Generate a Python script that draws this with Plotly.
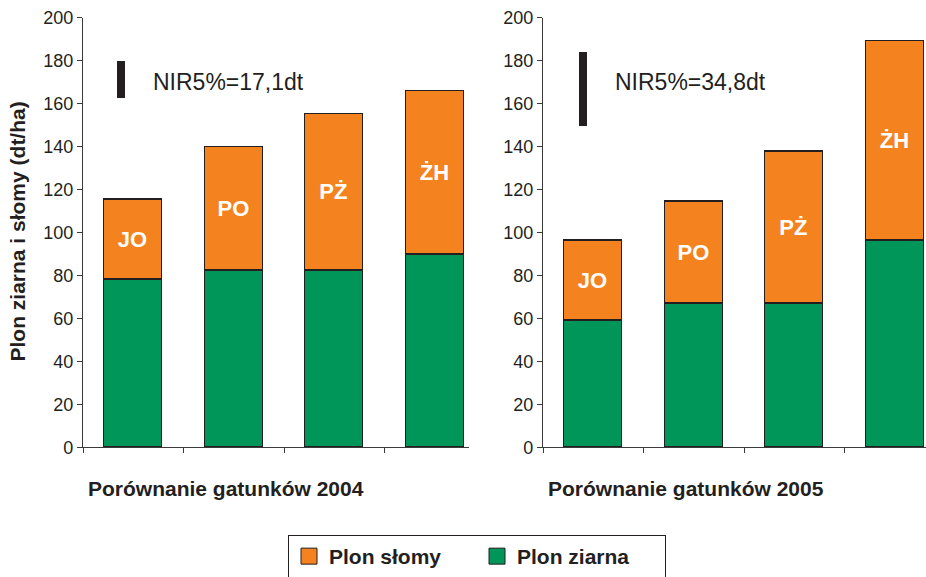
import plotly.graph_objects as go

# ---- data ----
categories = ["JO", "PO", "PŻ", "ŻH"]
grain_2004 = [78, 82, 82, 89.5]
straw_2004 = [37.3, 58, 73.2, 76.3]
grain_2005 = [59, 67, 66.8, 96]
straw_2005 = [37, 47.2, 70.8, 93.3]
nir_values = [17.1, 34.8]
nir_labels = ["NIR5%=17,1dt", "NIR5%=34,8dt"]
x_titles = ["Porównanie gatunków 2004", "Porównanie gatunków 2005"]
y_title = "Plon ziarna i słomy (dt/ha)"
legend_names = ["Plon słomy", "Plon ziarna"]
y_ticks = list(range(0, 201, 20))

# ---- style ----
ORANGE = "#F4821F"
GREEN = "#009659"
DARK = "#231F20"
AXIS = "#3a3a3a"
FONT = "Liberation Sans, Arial, sans-serif"
W, H = 926, 577

xpos = list(range(len(categories)))
nir_base = [162.8, 149.6]
nir_x = [-0.12, -0.10]
nir_text_x = [0.177, 0.198]

fig = go.Figure()

for i, (grain, straw) in enumerate([(grain_2004, straw_2004), (grain_2005, straw_2005)]):
    xa = "x" if i == 0 else "x2"
    ya = "y" if i == 0 else "y2"
    fig.add_trace(go.Bar(
        x=xpos, y=grain, xaxis=xa, yaxis=ya, width=0.58,
        marker=dict(color=GREEN, line=dict(color=DARK, width=1.2)),
        showlegend=False, hoverinfo="skip"))
    fig.add_trace(go.Bar(
        x=xpos, y=straw, xaxis=xa, yaxis=ya, width=0.58,
        marker=dict(color=ORANGE, line=dict(color=DARK, width=1.2)),
        text=categories, textposition="inside", insidetextanchor="middle",
        textfont=dict(family=FONT, size=22, color="white", weight="bold"),
        showlegend=False, hoverinfo="skip"))
    # NIR bar
    fig.add_trace(go.Bar(
        x=[nir_x[i]], y=[nir_values[i]], base=[nir_base[i]], width=0.08,
        xaxis=xa, yaxis=ya, marker=dict(color=DARK, line=dict(width=0)),
        showlegend=False, hoverinfo="skip"))

# legend entries
for name, col in zip(legend_names, [ORANGE, GREEN]):
    fig.add_trace(go.Scatter(
        x=[None], y=[None], mode="markers", name=name,
        marker=dict(symbol="square", size=16, color=col, line=dict(color=DARK, width=1)),
        showlegend=True))

y0 = (H - 447.3) / H
y1 = (H - 17.7) / H
cat_w = 100.5

axis_common_y = dict(
    range=[0, 200], tickvals=y_ticks, showline=True, linecolor=AXIS, linewidth=1.2,
    ticks="outside", ticklen=5, tickcolor=AXIS, tickwidth=1.2,
    tickfont=dict(family=FONT, size=18, color=DARK), showgrid=False, zeroline=False,
    domain=[y0, y1], fixedrange=True, automargin=False)
axis_common_x = dict(
    showline=True, linecolor=AXIS, linewidth=1.2, ticks="outside", ticklen=5,
    tickcolor=AXIS, tickwidth=1.2, tickvals=[-0.5, 0.5, 1.5, 2.5], showticklabels=False,
    showgrid=False, zeroline=False, fixedrange=True, automargin=False)

fig.update_layout(
    width=W, height=H,
    margin=dict(l=0, r=0, t=0, b=0, autoexpand=False),
    paper_bgcolor="white", plot_bgcolor="white",
    barmode="stack", bargap=0,
    font=dict(family=FONT, color=DARK),
    xaxis=dict(axis_common_x, domain=[83 / W, 469 / W], range=[-0.5, -0.5 + 386 / cat_w], anchor="y"),
    yaxis=dict(axis_common_y, anchor="x"),
    xaxis2=dict(axis_common_x, domain=[543 / W, 1.0], range=[-0.5, -0.5 + (W - 543) / cat_w], anchor="y2"),
    yaxis2=dict(axis_common_y, anchor="x2"),
    showlegend=True,
    legend=dict(
        orientation="h", x=288 / W, xanchor="left", y=(H - 535) / H, yanchor="top",
        bordercolor=DARK, borderwidth=1, bgcolor="white", traceorder="normal",
        font=dict(family=FONT, size=21, color=DARK, weight="bold"),
        entrywidth=143, itemsizing="trace"),
)

annotations = [
    dict(text=x_titles[0], xref="paper", yref="paper", x=86 / W, y=(H - 488) / H,
         xanchor="left", yanchor="middle", showarrow=False,
         font=dict(family=FONT, size=21, color=DARK, weight="bold")),
    dict(text=x_titles[1], xref="paper", yref="paper", x=546 / W, y=(H - 488) / H,
         xanchor="left", yanchor="middle", showarrow=False,
         font=dict(family=FONT, size=21, color=DARK, weight="bold")),
    dict(text=y_title, xref="paper", yref="paper", x=17 / W, y=(H - 231.5) / H,
         xanchor="center", yanchor="middle", textangle=-90, showarrow=False,
         font=dict(family=FONT, size=21, color=DARK, weight="bold")),
    dict(text=nir_labels[0], xref="x", yref="y", x=nir_text_x[0], y=170,
         xanchor="left", yanchor="middle", showarrow=False,
         font=dict(family=FONT, size=23, color=DARK)),
    dict(text=nir_labels[1], xref="x2", yref="y2", x=nir_text_x[1], y=170,
         xanchor="left", yanchor="middle", showarrow=False,
         font=dict(family=FONT, size=23, color=DARK)),
]
fig.update_layout(annotations=annotations)

fig.write_html(
    "out.html",
    config={"displayModeBar": False},
    post_script="document.body.style.margin='0';document.body.style.overflow='hidden';",
)
